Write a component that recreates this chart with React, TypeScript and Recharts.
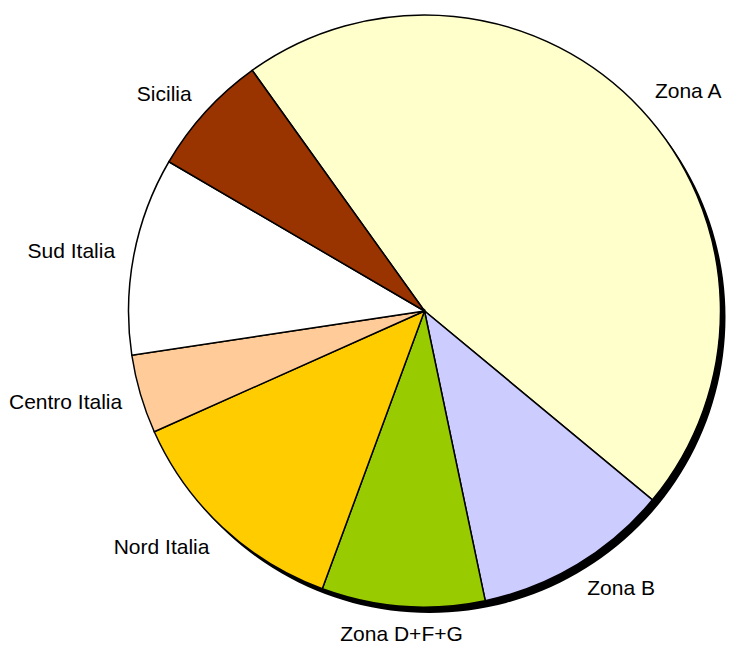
import { PieChart, Pie, Cell } from 'recharts';

const zones = ['Zona A', 'Zona B', 'Zona D+F+G', 'Nord Italia', 'Centro Italia', 'Sud Italia', 'Sicilia'];
const shares = [45.9, 10.7, 8.9, 12.7, 4.3, 10.8, 6.7];
const colors = ['#FFFFCC', '#CCCCFF', '#99CC00', '#FFCC00', '#FFCC99', '#FFFFFF', '#993300'];

const data = zones.map((name, i) => ({ name, value: shares[i] }));
const shadowData = [{ name: 'shadow', value: 1 }];

const RADIAN = Math.PI / 180;
const CX = 424.5;
const CY = 311;
const R = 296;
const START = 125.6;

const renderLabel = (props: any) => {
  const { cx, cy, midAngle, name } = props;
  const cos = Math.cos(-midAngle * RADIAN);
  const sin = Math.sin(-midAngle * RADIAN);
  const lr = R + 19;
  const x = cx + lr * cos;
  const y = cy + (lr + 8) * sin;
  const anchor = cos > 0.15 ? 'start' : cos < -0.15 ? 'end' : 'middle';
  return (
    <text
      x={x}
      y={y}
      textAnchor={anchor}
      dominantBaseline="central"
      fill="#000"
      fontSize={21}
      fontFamily="'Liberation Sans', Arial, sans-serif"
    >
      {name}
    </text>
  );
};

export default function App() {
  return (
    <div style={{ position: 'absolute', left: 0, top: 0, background: '#fff' }}>
      <PieChart width={729} height={645} margin={{ top: 0, right: 0, bottom: 0, left: 0 }}>
        <Pie
          data={shadowData}
          dataKey="value"
          cx={CX + 5}
          cy={CY + 6}
          outerRadius={R}
          fill="#000"
          stroke="none"
          isAnimationActive={false}
        />
        <Pie
          data={data}
          dataKey="value"
          cx={CX}
          cy={CY}
          outerRadius={R}
          startAngle={START}
          endAngle={START - 360}
          stroke="#000"
          strokeWidth={1.5}
          label={renderLabel}
          labelLine={false}
          isAnimationActive={false}
        >
          {data.map((d, i) => (
            <Cell key={d.name} fill={colors[i]} />
          ))}
        </Pie>
      </PieChart>
    </div>
  );
}
